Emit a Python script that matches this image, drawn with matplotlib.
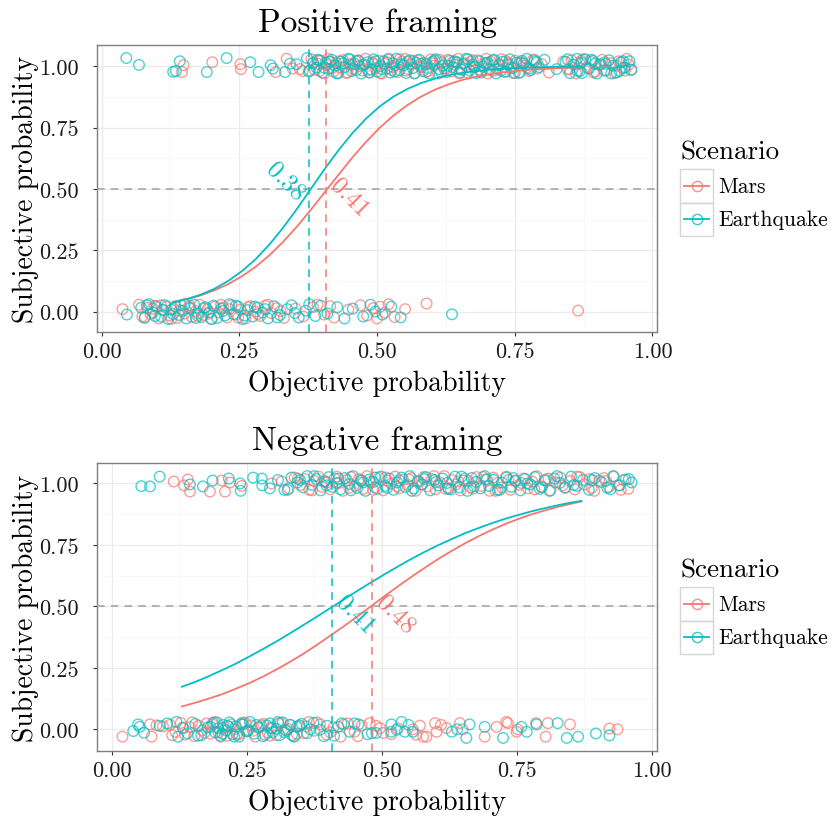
import numpy as np
import matplotlib
matplotlib.use("Agg")
import matplotlib.pyplot as plt
from matplotlib.lines import Line2D
from matplotlib.patches import Rectangle
from matplotlib.ticker import FormatStrFormatter, MultipleLocator

plt.rcParams['font.family'] = 'cmr10'
plt.rcParams['mathtext.fontset'] = 'cm'
plt.rcParams['axes.unicode_minus'] = False
plt.rcParams['axes.formatter.use_mathtext'] = True

scenarios = ['Mars', 'Earthquake']
colours = {'Mars': '#F8766D', 'Earthquake': '#00BFC4'}

# ---- positive framing: answered 1 ----
pos_mars_hi_x = [0.146, 0.149, 0.201, 0.252, 0.253, 0.316, 0.336, 0.347, 0.360, 0.365,
                 0.381, 0.387, 0.392, 0.398, 0.404, 0.409, 0.414, 0.421, 0.426, 0.433,
                 0.438, 0.444, 0.451, 0.457, 0.462, 0.468, 0.474, 0.479, 0.486, 0.491,
                 0.497, 0.503, 0.509, 0.514, 0.521, 0.527, 0.532, 0.538, 0.545, 0.551,
                 0.556, 0.562, 0.569, 0.574, 0.581, 0.586, 0.592, 0.598, 0.604, 0.611,
                 0.617, 0.622, 0.629, 0.635, 0.641, 0.647, 0.653, 0.659, 0.664, 0.671,
                 0.677, 0.682, 0.689, 0.695, 0.701, 0.707, 0.712, 0.719, 0.726, 0.731,
                 0.738, 0.744, 0.751, 0.757, 0.763, 0.769, 0.776, 0.783, 0.791, 0.799,
                 0.812, 0.838, 0.846, 0.853, 0.861, 0.868, 0.874, 0.881, 0.889, 0.896,
                 0.903, 0.909, 0.917, 0.924, 0.931, 0.939, 0.946, 0.953, 0.961, 0.957,
                 0.384, 0.396, 0.411, 0.419, 0.431, 0.447, 0.455, 0.466, 0.483, 0.494,
                 0.506, 0.518, 0.529, 0.541, 0.553, 0.566, 0.578, 0.589, 0.601, 0.614,
                 0.626, 0.638, 0.650, 0.662, 0.674, 0.686, 0.698, 0.710, 0.722, 0.734,
                 0.747, 0.760, 0.772, 0.786, 0.849, 0.871, 0.893, 0.913, 0.935, 0.950]
pos_mars_hi_dy = [-0.024, 0.004, 0.016, 0.008, -0.012, -0.024, 0.030, -0.010, -0.012, -0.020,
                  0.028, -0.015, 0.010, 0.022, -0.030, 0.005, 0.018, -0.022, 0.012, -0.005,
                  0.025, -0.028, 0.008, -0.012, 0.020, 0.000, -0.018, 0.030, -0.025, 0.014,
                  -0.008, 0.022, -0.030, 0.010, 0.026, -0.016, 0.004, -0.024, 0.018, 0.030,
                  -0.012, 0.008, -0.028, 0.024, -0.004, 0.014, -0.020, 0.028, 0.002, -0.030,
                  0.016, -0.010, 0.026, -0.022, 0.006, 0.030, -0.014, 0.012, -0.026, 0.020,
                  -0.002, 0.024, -0.018, 0.010, -0.030, 0.018, 0.004, -0.012, 0.028, -0.024,
                  0.012, -0.006, 0.022, -0.028, 0.016, 0.002, -0.020, 0.026, -0.010, 0.008,
                  -0.026, 0.018, -0.014, 0.024, -0.030, 0.010, 0.028, -0.006, 0.016, -0.022,
                  0.004, 0.026, -0.018, 0.012, -0.028, 0.020, -0.008, 0.030, -0.016, 0.006,
                  0.015, -0.020, 0.030, -0.008, 0.020, -0.026, 0.006, 0.024, -0.016, 0.010,
                  -0.028, 0.016, -0.004, 0.028, -0.018, 0.022, 0.000, -0.024, 0.012, 0.026,
                  -0.010, 0.018, -0.030, 0.004, 0.024, -0.014, 0.030, -0.020, 0.008, 0.020,
                  -0.028, 0.014, -0.006, 0.026, -0.012, 0.022, -0.026, 0.016, 0.002, -0.018]
pos_eq_hi_x = [0.045, 0.068, 0.130, 0.135, 0.142, 0.191, 0.227, 0.270, 0.285, 0.307,
               0.311, 0.333, 0.342, 0.354, 0.373, 0.378, 0.384, 0.390, 0.395, 0.401,
               0.407, 0.412, 0.418, 0.424, 0.430, 0.435, 0.441, 0.448, 0.454, 0.459,
               0.466, 0.471, 0.477, 0.483, 0.489, 0.494, 0.500, 0.506, 0.512, 0.518,
               0.524, 0.529, 0.535, 0.541, 0.548, 0.553, 0.559, 0.565, 0.571, 0.577,
               0.583, 0.589, 0.595, 0.601, 0.607, 0.613, 0.619, 0.626, 0.632, 0.638,
               0.644, 0.650, 0.656, 0.662, 0.668, 0.674, 0.680, 0.686, 0.692, 0.698,
               0.704, 0.710, 0.716, 0.722, 0.728, 0.734, 0.741, 0.747, 0.753, 0.759,
               0.766, 0.772, 0.779, 0.786, 0.794, 0.804, 0.826, 0.842, 0.850, 0.857,
               0.864, 0.871, 0.878, 0.885, 0.892, 0.899, 0.906, 0.913, 0.921, 0.928,
               0.935, 0.943, 0.950, 0.958, 0.962, 0.872, 0.889, 0.915, 0.940, 0.863,
               0.376, 0.392, 0.404, 0.415, 0.427, 0.439, 0.451, 0.463, 0.474, 0.486,
               0.497, 0.509, 0.521, 0.532, 0.544, 0.556, 0.568, 0.580, 0.592, 0.604,
               0.616, 0.629, 0.641, 0.653, 0.665, 0.677, 0.689, 0.701, 0.713, 0.725,
               0.738, 0.750, 0.763, 0.776, 0.790, 0.846, 0.868, 0.896, 0.925, 0.947]
pos_eq_hi_dy = [0.033, 0.005, -0.023, -0.020, 0.020, -0.024, 0.033, 0.016, -0.024, 0.004,
                -0.010, -0.024, 0.010, 0.008, 0.033, -0.018, 0.012, -0.006, 0.024, -0.026,
                0.014, -0.012, 0.026, 0.002, -0.028, 0.018, -0.004, 0.030, -0.020, 0.010,
                0.022, -0.030, 0.006, 0.016, -0.014, 0.028, -0.022, 0.000, 0.020, -0.010,
                -0.026, 0.012, 0.030, -0.016, 0.004, -0.028, 0.024, -0.008, 0.014, 0.026,
                -0.020, 0.008, -0.030, 0.018, 0.028, -0.012, 0.002, -0.024, 0.022, -0.004,
                0.016, -0.026, 0.010, 0.030, -0.018, 0.006, -0.028, 0.020, -0.002, 0.012,
                -0.014, 0.024, -0.030, 0.004, 0.018, -0.022, 0.028, -0.008, 0.014, -0.026,
                0.010, 0.030, -0.016, 0.020, -0.004, 0.026, -0.012, 0.018, -0.028, 0.006,
                -0.020, 0.014, 0.028, -0.010, 0.022, -0.030, 0.008, -0.018, 0.024, 0.002,
                -0.026, 0.016, -0.006, 0.020, -0.014, -0.028, 0.026, 0.010, -0.020, 0.030,
                -0.022, 0.026, -0.006, 0.018, -0.030, 0.012, 0.028, -0.016, 0.004, -0.026,
                0.020, -0.012, 0.030, -0.022, 0.008, 0.018, -0.030, 0.010, -0.008, 0.024,
                -0.024, 0.002, 0.020, -0.014, 0.028, -0.004, -0.026, 0.014, 0.026, -0.018,
                0.006, -0.028, 0.022, -0.010, 0.016, 0.028, -0.020, 0.010, -0.030, 0.020]

# ---- positive framing: answered 0 ----
pos_mars_lo_x = [0.038, 0.068, 0.074, 0.083, 0.089, 0.097, 0.104, 0.112, 0.118, 0.124,
                 0.131, 0.137, 0.144, 0.151, 0.158, 0.164, 0.171, 0.178, 0.185, 0.192,
                 0.199, 0.206, 0.213, 0.221, 0.228, 0.236, 0.244, 0.252, 0.261, 0.270,
                 0.279, 0.288, 0.297, 0.308, 0.318, 0.331, 0.352, 0.366, 0.384, 0.392,
                 0.404, 0.415, 0.422, 0.448, 0.470, 0.482, 0.493, 0.500, 0.506, 0.514,
                 0.521, 0.532, 0.551, 0.590, 0.865,
                 0.079, 0.093, 0.108, 0.127, 0.141, 0.160, 0.175, 0.195, 0.217, 0.232,
                 0.248, 0.266, 0.284, 0.302, 0.325]
pos_mars_lo_dy = [0.010, 0.028, -0.020, 0.015, -0.010, 0.024, -0.028, 0.005, 0.020, -0.016,
                  0.012, -0.026, 0.026, -0.008, 0.018, -0.022, 0.002, 0.028, -0.014, 0.010,
                  -0.030, 0.020, -0.004, 0.016, -0.024, 0.026, -0.012, 0.008, -0.028, 0.022,
                  0.000, -0.018, 0.024, -0.006, 0.014, -0.026, 0.012, -0.020, 0.018, 0.028,
                  -0.012, 0.022, -0.024, 0.008, 0.026, -0.016, 0.014, -0.028, 0.020, -0.004,
                  0.030, -0.022, 0.010, 0.033, 0.004,
                  -0.022, 0.012, 0.026, -0.030, 0.004, 0.024, -0.018, -0.008, 0.028, 0.010,
                  -0.024, 0.018, -0.010, 0.028, 0.002]
pos_eq_lo_x = [0.046, 0.072, 0.078, 0.086, 0.093, 0.100, 0.108, 0.115, 0.121, 0.127,
               0.134, 0.141, 0.147, 0.154, 0.161, 0.168, 0.175, 0.182, 0.189, 0.196,
               0.203, 0.210, 0.217, 0.224, 0.232, 0.240, 0.248, 0.256, 0.265, 0.274,
               0.283, 0.293, 0.302, 0.313, 0.324, 0.337, 0.345, 0.358, 0.371, 0.377,
               0.388, 0.398, 0.410, 0.428, 0.441, 0.456, 0.475, 0.488, 0.497, 0.510,
               0.526, 0.543, 0.636,
               0.082, 0.097, 0.111, 0.130, 0.151, 0.171, 0.186, 0.200, 0.220, 0.244,
               0.260, 0.278, 0.297, 0.319, 0.351]
pos_eq_lo_dy = [-0.012, 0.016, -0.026, 0.030, -0.004, 0.020, -0.020, 0.026, -0.030, 0.008,
                0.022, -0.014, 0.004, -0.028, 0.014, 0.028, -0.008, -0.022, 0.018, -0.002,
                0.024, -0.026, 0.012, -0.016, 0.030, -0.010, 0.020, -0.030, 0.006, -0.020,
                0.016, -0.004, -0.028, 0.022, -0.014, 0.010, 0.026, -0.024, 0.004, 0.030,
                -0.018, 0.024, -0.008, 0.018, -0.028, 0.012, -0.020, 0.028, 0.000, -0.012,
                0.020, -0.024, -0.011,
                0.026, -0.018, 0.008, -0.010, 0.030, -0.026, 0.014, -0.030, 0.002, 0.024,
                -0.016, 0.020, 0.010, -0.024, -0.006]

# ---- negative framing: answered 1 ----
neg_mars_hi_x = [0.115, 0.134, 0.141, 0.145, 0.182, 0.204, 0.210, 0.219, 0.241, 0.296,
                 0.315, 0.328, 0.339, 0.350, 0.358, 0.366, 0.375, 0.383, 0.390, 0.398,
                 0.405, 0.413, 0.421, 0.428, 0.436, 0.443, 0.451, 0.458, 0.466, 0.473,
                 0.480, 0.488, 0.495, 0.503, 0.510, 0.518, 0.525, 0.533, 0.540, 0.548,
                 0.555, 0.563, 0.570, 0.578, 0.585, 0.593, 0.600, 0.608, 0.616, 0.623,
                 0.631, 0.638, 0.646, 0.654, 0.661, 0.669, 0.676, 0.684, 0.692, 0.700,
                 0.707, 0.715, 0.723, 0.731, 0.739, 0.747, 0.755, 0.763, 0.771, 0.779,
                 0.787, 0.796, 0.804, 0.813, 0.822, 0.831, 0.840, 0.849, 0.858, 0.867,
                 0.876, 0.885, 0.894, 0.903, 0.912, 0.921, 0.930, 0.939, 0.948, 0.957,
                 0.345, 0.371, 0.394, 0.417, 0.440, 0.462, 0.484, 0.507, 0.529, 0.551,
                 0.574, 0.597, 0.619, 0.642, 0.665, 0.688, 0.711, 0.735, 0.759, 0.783,
                 0.809, 0.835, 0.862, 0.889, 0.916, 0.943]
neg_mars_hi_dy = [0.008, -0.008, 0.016, -0.033, -0.033, 0.012, -0.033, 0.004, -0.010, 0.000,
                  0.008, -0.020, 0.024, -0.006, 0.018, -0.026, 0.010, 0.028, -0.014, 0.004,
                  -0.024, 0.020, 0.002, -0.030, 0.014, 0.026, -0.010, 0.018, -0.022, 0.030,
                  0.006, -0.016, 0.024, -0.028, 0.012, 0.000, 0.028, -0.020, 0.016, -0.006,
                  0.022, -0.030, 0.008, 0.026, -0.012, 0.018, -0.024, 0.004, 0.030, -0.018,
                  0.014, -0.004, -0.028, 0.020, 0.010, -0.022, 0.026, -0.010, 0.016, -0.030,
                  0.024, 0.002, -0.016, 0.028, -0.026, 0.012, -0.006, 0.020, -0.020, 0.008,
                  0.030, -0.012, 0.016, -0.028, 0.004, 0.024, -0.018, 0.010, -0.024, 0.026,
                  -0.004, 0.018, -0.030, 0.012, 0.022, -0.014, 0.028, -0.008, 0.014, -0.022,
                  0.020, -0.028, 0.006, 0.028, -0.018, 0.012, -0.026, 0.024, -0.012, 0.016,
                  -0.004, 0.030, -0.022, 0.008, -0.016, 0.026, -0.030, 0.014, 0.002, -0.024,
                  0.020, -0.008, 0.028, -0.018, 0.010, -0.026]
neg_eq_hi_x = [0.055, 0.071, 0.089, 0.145, 0.169, 0.187, 0.217, 0.238, 0.239, 0.262,
               0.278, 0.279, 0.293, 0.308, 0.320, 0.333, 0.344, 0.354, 0.362, 0.371,
               0.379, 0.387, 0.395, 0.402, 0.409, 0.417, 0.424, 0.432, 0.440, 0.447,
               0.455, 0.462, 0.470, 0.477, 0.485, 0.492, 0.499, 0.507, 0.514, 0.522,
               0.529, 0.537, 0.544, 0.552, 0.560, 0.567, 0.575, 0.582, 0.590, 0.598,
               0.605, 0.613, 0.621, 0.628, 0.636, 0.644, 0.652, 0.659, 0.667, 0.675,
               0.683, 0.691, 0.699, 0.707, 0.715, 0.723, 0.731, 0.740, 0.748, 0.757,
               0.766, 0.775, 0.784, 0.793, 0.802, 0.811, 0.820, 0.830, 0.840, 0.851,
               0.862, 0.873, 0.884, 0.895, 0.907, 0.918, 0.929, 0.941, 0.952, 0.963,
               0.326, 0.349, 0.375, 0.398, 0.420, 0.443, 0.466, 0.488, 0.510, 0.533,
               0.556, 0.579, 0.601, 0.624, 0.648, 0.671, 0.695, 0.719, 0.744, 0.770,
               0.797, 0.825, 0.856, 0.890, 0.924, 0.958]
neg_eq_hi_dy = [-0.011, -0.012, 0.028, -0.004, -0.012, 0.012, 0.020, 0.000, -0.030, 0.024,
                0.020, -0.008, -0.020, 0.014, -0.026, 0.024, 0.004, -0.016, 0.030, -0.006,
                0.018, -0.028, 0.010, 0.026, -0.014, 0.002, -0.024, 0.022, -0.002, 0.030,
                -0.018, 0.012, -0.030, 0.016, 0.006, -0.022, 0.028, -0.010, 0.020, -0.026,
                0.004, 0.024, -0.014, 0.030, -0.020, 0.010, -0.004, 0.026, -0.028, 0.014,
                -0.008, 0.020, 0.002, -0.024, 0.028, -0.016, 0.012, -0.030, 0.022, 0.006,
                -0.020, 0.030, -0.010, 0.016, -0.026, 0.004, 0.024, -0.014, 0.010, -0.028,
                0.018, -0.004, 0.026, -0.022, 0.012, -0.030, 0.020, 0.002, -0.016, 0.028,
                -0.010, 0.014, -0.026, 0.022, 0.006, -0.018, 0.030, -0.008, 0.016, 0.004,
                -0.026, 0.014, 0.030, -0.008, 0.020, -0.028, 0.004, 0.024, -0.018, 0.012,
                -0.030, 0.018, 0.006, -0.022, 0.028, -0.012, 0.016, -0.026, 0.022, 0.000,
                -0.016, 0.030, -0.006, 0.014, -0.024, 0.018]

# ---- negative framing: answered 0 ----
neg_mars_lo_x = [0.020, 0.071, 0.074, 0.095, 0.108, 0.118, 0.128, 0.136, 0.145, 0.153,
                 0.161, 0.168, 0.176, 0.183, 0.191, 0.198, 0.206, 0.213, 0.221, 0.228,
                 0.236, 0.243, 0.251, 0.258, 0.266, 0.273, 0.281, 0.289, 0.297, 0.305,
                 0.313, 0.321, 0.330, 0.338, 0.347, 0.356, 0.365, 0.375, 0.386, 0.398,
                 0.411, 0.424, 0.437, 0.450, 0.463, 0.478, 0.497, 0.503, 0.518, 0.558,
                 0.571, 0.577, 0.583, 0.599, 0.602, 0.620, 0.645, 0.650, 0.691, 0.713,
                 0.731, 0.734, 0.750, 0.752, 0.786, 0.804, 0.808, 0.849, 0.922, 0.937,
                 0.083, 0.112, 0.132, 0.149, 0.172, 0.187, 0.202, 0.217, 0.232, 0.247,
                 0.262, 0.277, 0.293, 0.309, 0.326, 0.343, 0.361, 0.380, 0.405, 0.430,
                 0.456, 0.490, 0.530, 0.564, 0.610]
neg_mars_lo_dy = [-0.030, 0.020, -0.030, 0.012, 0.018, -0.010, 0.026, -0.022, 0.008, -0.028,
                  0.014, -0.004, 0.024, -0.018, 0.030, -0.012, 0.006, -0.026, 0.020, 0.000,
                  -0.020, 0.028, -0.008, 0.016, -0.030, 0.010, 0.022, -0.014, 0.004, -0.024,
                  0.026, -0.002, 0.018, -0.028, 0.012, -0.016, 0.030, -0.006, 0.020, -0.022,
                  0.008, -0.030, 0.024, -0.010, 0.016, 0.025, 0.005, -0.015, -0.020, 0.000,
                  0.015, -0.030, -0.030, 0.025, -0.010, 0.005, 0.025, 0.000, -0.030, 0.010,
                  0.030, 0.025, -0.010, 0.000, 0.025, -0.030, 0.025, 0.020, 0.003, 0.000,
                  0.016, -0.024, 0.008, 0.028, -0.014, 0.020, -0.030, 0.010, -0.020, 0.026,
                  -0.006, 0.016, -0.026, 0.024, 0.002, -0.018, 0.012, 0.028, -0.012, 0.020,
                  -0.028, 0.014, 0.004, -0.022, 0.018]
neg_eq_lo_x = [0.040, 0.049, 0.052, 0.089, 0.120, 0.123, 0.140, 0.155, 0.166, 0.178,
               0.188, 0.192, 0.197, 0.202, 0.207, 0.212, 0.218, 0.224, 0.230, 0.236,
               0.243, 0.249, 0.256, 0.264, 0.272, 0.280, 0.288, 0.293, 0.299, 0.305,
               0.311, 0.317, 0.324, 0.331, 0.338, 0.343, 0.352, 0.362, 0.374, 0.386,
               0.399, 0.412, 0.426, 0.441, 0.457, 0.474, 0.490, 0.518, 0.518, 0.537,
               0.543, 0.558, 0.630, 0.640, 0.657, 0.663, 0.691, 0.725, 0.759, 0.769,
               0.787, 0.826, 0.843, 0.864, 0.897, 0.922,
               0.060, 0.103, 0.132, 0.160, 0.183, 0.195, 0.205, 0.215, 0.227, 0.240,
               0.253, 0.268, 0.284, 0.296, 0.308, 0.320, 0.334, 0.348, 0.368, 0.393,
               0.420, 0.450, 0.482, 0.528, 0.550]
neg_eq_lo_dy = [-0.007, 0.020, 0.010, 0.014, 0.030, -0.030, -0.016, 0.022, -0.024, 0.008,
                0.026, -0.012, 0.004, -0.026, 0.018, -0.004, 0.028, -0.020, 0.012, -0.030,
                0.020, -0.008, 0.030, -0.018, 0.006, -0.028, 0.016, 0.024, -0.012, 0.002,
                -0.024, 0.028, -0.006, 0.018, -0.030, 0.010, 0.022, -0.016, 0.026, -0.002,
                0.014, -0.026, 0.024, -0.010, 0.020, -0.020, -0.015, 0.020, -0.010, 0.030,
                -0.010, -0.010, -0.010, 0.000, -0.035, 0.020, 0.010, -0.035, 0.010, -0.010,
                0.020, 0.025, -0.035, -0.030, -0.017, -0.025,
                -0.014, 0.024, 0.004, -0.026, 0.010, 0.028, -0.018, 0.014, -0.030, 0.022,
                -0.004, 0.018, -0.022, 0.006, 0.030, -0.012, -0.024, 0.016, 0.000, -0.028,
                0.010, 0.024, -0.016, -0.002, 0.018]

# ---- fitted logistic curves ----
curve_x = [0.13, 0.155, 0.18, 0.205, 0.23, 0.255, 0.28, 0.305, 0.33, 0.355, 0.38,
           0.405, 0.43, 0.455, 0.48, 0.505, 0.53, 0.555, 0.58, 0.605, 0.63,
           0.655, 0.68, 0.705, 0.73, 0.755, 0.78, 0.805, 0.83, 0.85, 0.87]
pos_mars_fit = [0.038, 0.051, 0.066, 0.087, 0.112, 0.144, 0.183, 0.230, 0.285, 0.347, 0.415,
                0.486, 0.557, 0.627, 0.691, 0.749, 0.799, 0.841, 0.876, 0.904, 0.926,
                0.944, 0.957, 0.967, 0.975, 0.981, 0.986, 0.989, 0.992, 0.994, 0.995]
pos_eq_fit = [0.037, 0.051, 0.069, 0.093, 0.125, 0.165, 0.214, 0.274, 0.343, 0.419, 0.500,
              0.581, 0.657, 0.726, 0.786, 0.836, 0.876, 0.907, 0.931, 0.949, 0.963,
              0.973, 0.980, 0.986, 0.990, 0.992, 0.994, 0.996, 0.997, 0.998, 0.998]
neg_mars_fit = [0.093, 0.108, 0.125, 0.143, 0.165, 0.188, 0.214, 0.243, 0.274, 0.307, 0.343,
                0.381, 0.419, 0.459, 0.500, 0.541, 0.581, 0.620, 0.657, 0.693, 0.726,
                0.757, 0.786, 0.812, 0.836, 0.857, 0.876, 0.892, 0.907, 0.917, 0.927]
neg_eq_fit = [0.173, 0.193, 0.216, 0.241, 0.267, 0.296, 0.326, 0.357, 0.390, 0.424, 0.458,
              0.493, 0.528, 0.563, 0.597, 0.630, 0.662, 0.693, 0.722, 0.749, 0.774,
              0.798, 0.819, 0.839, 0.857, 0.873, 0.888, 0.901, 0.913, 0.922, 0.929]

# 50% thresholds (line position, label)
pos_cut = {'Mars': (0.408, '0.41'), 'Earthquake': (0.377, '0.38')}
neg_cut = {'Mars': (0.482, '0.48'), 'Earthquake': (0.408, '0.41')}


def px_x(p):
    return p / 833.0


def px_y(p):
    return 1 - p / 820.0


fig = plt.figure(figsize=(8.33, 8.20), dpi=100)
ax_pos = fig.add_axes([px_x(97), px_y(333), 560 / 833, 287 / 820])
ax_neg = fig.add_axes([px_x(97), px_y(752), 560 / 833, 288 / 820])


def panel(ax, title, pts, fits, cuts, label_align):
    allx = np.concatenate([np.asarray(p[0]) for p in pts.values()])
    ally = np.concatenate([np.asarray(p[1]) for p in pts.values()])
    for sc in scenarios:
        xs, ys = pts[sc]
        ax.scatter(xs, ys, s=58, facecolors='none', edgecolors=colours[sc],
                   linewidths=1.0, alpha=0.7, zorder=2)
    for sc in scenarios:
        ax.plot(curve_x, fits[sc], color=colours[sc], lw=1.3, zorder=3)
    ax.axhline(0.5, color='#A0A0A0', lw=1.1, ls=(0, (5, 4)), zorder=3)
    for sc in scenarios:
        xc, lab = cuts[sc]
        ax.axvline(xc, color=colours[sc], lw=1.1, ls=(0, (5, 4)), zorder=3)
        ha, va = label_align[sc]
        ax.text(xc, 0.5, lab, color=colours[sc], fontsize=18, rotation=-45,
                rotation_mode='anchor', ha=ha, va=va, zorder=4)

    xr = allx.max() - allx.min()
    ax.set_xlim(allx.min() - 0.05 * xr, allx.max() + 0.05 * xr)
    yr = ally.max() - ally.min()
    ax.set_ylim(ally.min() - 0.05 * yr, ally.max() + 0.05 * yr)

    ax.xaxis.set_major_locator(MultipleLocator(0.25))
    ax.xaxis.set_minor_locator(MultipleLocator(0.125))
    ax.yaxis.set_major_locator(MultipleLocator(0.25))
    ax.yaxis.set_minor_locator(MultipleLocator(0.125))
    ax.xaxis.set_major_formatter(FormatStrFormatter('%.2f'))
    ax.yaxis.set_major_formatter(FormatStrFormatter('%.2f'))
    ax.grid(which='major', color='#EBEBEB', lw=0.9)
    ax.grid(which='minor', color='#F5F5F5', lw=0.5)
    ax.set_axisbelow(True)
    ax.tick_params(which='major', length=3, width=0.8, color='#333333',
                   labelsize=16, labelcolor='#1a1a1a')
    ax.tick_params(axis='x', which='major', pad=4)
    ax.tick_params(axis='y', which='major', pad=10)
    ax.tick_params(which='minor', length=0)
    for s in ax.spines.values():
        s.set_color('#7F7F7F')
        s.set_linewidth(1.0)

    ax.set_title(title, fontsize=24, pad=10)
    ax.set_xlabel('Objective probability', fontsize=20)
    ax.set_ylabel('Subjective probability', fontsize=20)
    ax.xaxis.set_label_coords(0.5, -0.13)
    ax.yaxis.set_label_coords(-0.103, 0.5)


def legend_at(top):
    fig.text(px_x(680), px_y(top), 'Scenario', fontsize=19.5, ha='left', va='center')
    for i, sc in enumerate(scenarios):
        y0 = top + 17 + i * 33.5
        fig.add_artist(Rectangle((px_x(680), px_y(y0 + 33.5)), 33 / 833, 33.5 / 820,
                                 transform=fig.transFigure, fill=False,
                                 ec='#D6D6D6', lw=1.0))
        yc = y0 + 16.75
        fig.add_artist(Line2D([px_x(684), px_x(709)], [px_y(yc)] * 2,
                              transform=fig.transFigure, color=colours[sc], lw=1.3))
        fig.add_artist(Line2D([px_x(696.5)], [px_y(yc)], marker='o', ms=7.4,
                              mfc='none', mec=colours[sc], mew=1.0, alpha=0.8,
                              transform=fig.transFigure))
        fig.text(px_x(718), px_y(yc), sc, fontsize=15.5, ha='left', va='center')


pos_pts = {'Mars': (pos_mars_lo_x + pos_mars_hi_x,
                    list(np.array(pos_mars_lo_dy)) + list(1 + np.array(pos_mars_hi_dy))),
           'Earthquake': (pos_eq_lo_x + pos_eq_hi_x,
                          list(np.array(pos_eq_lo_dy)) + list(1 + np.array(pos_eq_hi_dy)))}
neg_pts = {'Mars': (neg_mars_lo_x + neg_mars_hi_x,
                    list(np.array(neg_mars_lo_dy)) + list(1 + np.array(neg_mars_hi_dy))),
           'Earthquake': (neg_eq_lo_x + neg_eq_hi_x,
                          list(np.array(neg_eq_lo_dy)) + list(1 + np.array(neg_eq_hi_dy)))}

panel(ax_pos, 'Positive framing', pos_pts,
      {'Mars': pos_mars_fit, 'Earthquake': pos_eq_fit}, pos_cut,
      {'Mars': ('left', 'bottom'), 'Earthquake': ('right', 'top')})
panel(ax_neg, 'Negative framing', neg_pts,
      {'Mars': neg_mars_fit, 'Earthquake': neg_eq_fit}, neg_cut,
      {'Mars': ('left', 'bottom'), 'Earthquake': ('left', 'bottom')})

legend_at(153)
legend_at(571)

fig.savefig('out.png', dpi=100)
